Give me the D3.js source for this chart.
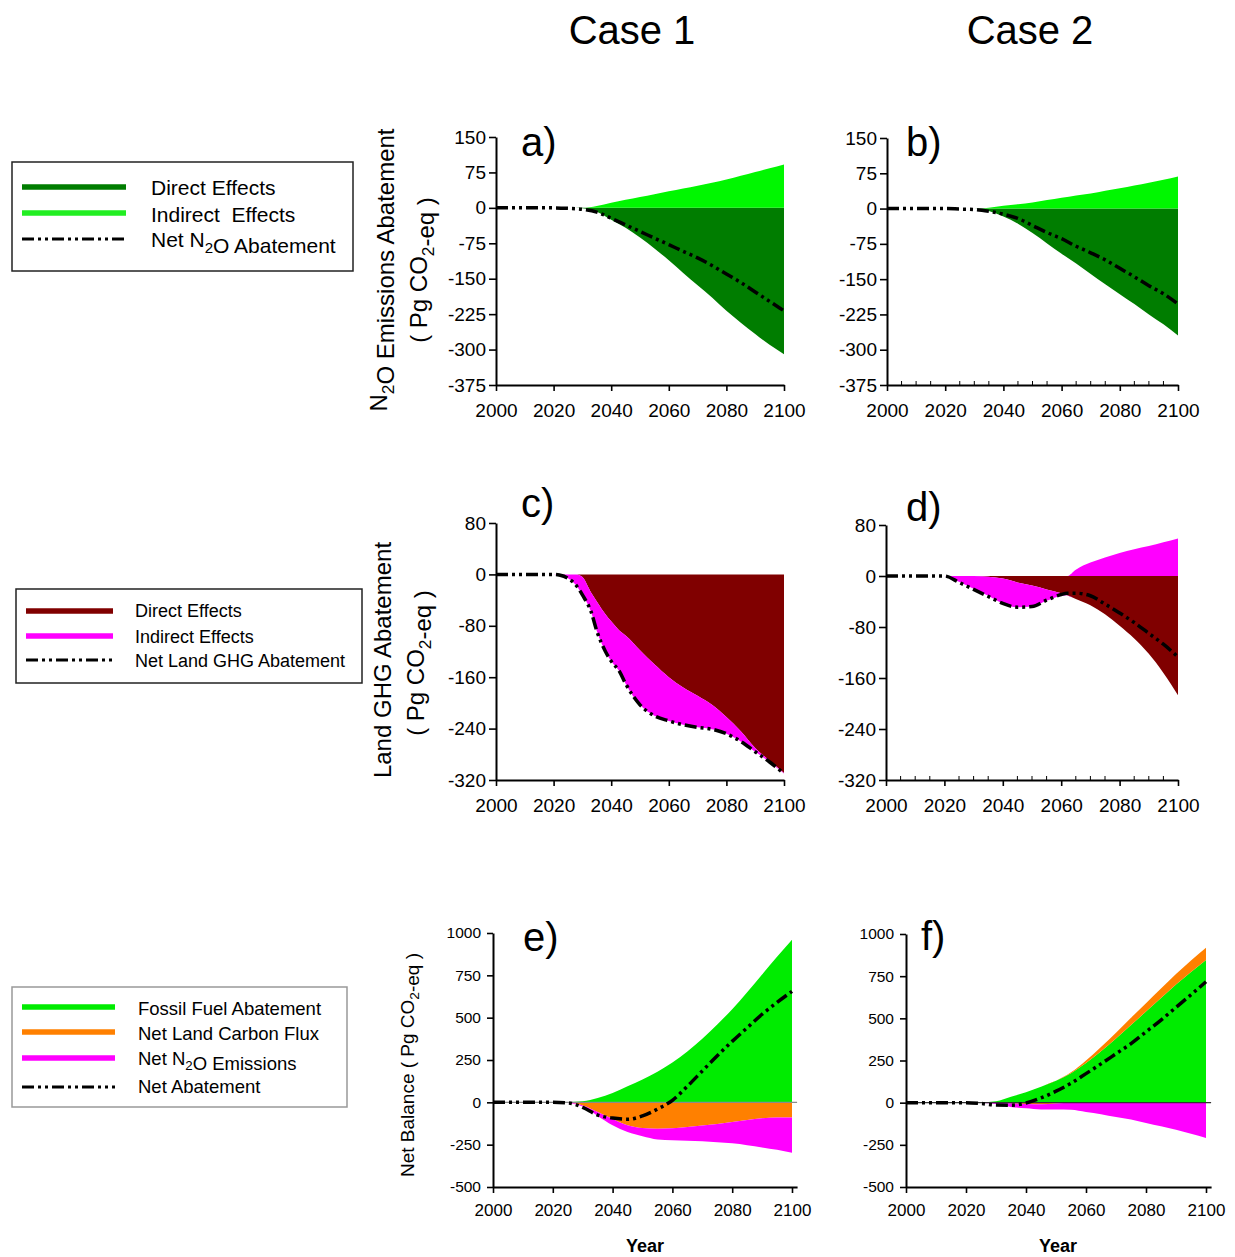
<!DOCTYPE html>
<html><head><meta charset="utf-8">
<script src="https://cdn.jsdelivr.net/npm/d3@7/dist/d3.min.js"></script>
<style>
body{margin:0;background:#fff}
svg{display:block}
text{font-family:"Liberation Sans",Arial,sans-serif;fill:#000;white-space:pre}
</style>
</head><body>
<svg id="chart" width="1235" height="1257"></svg>
<script>
// ---------------- DATA ----------------
const caseTitles = ["Case 1", "Case 2"];
const years = [2000, 2010, 2020, 2025, 2030, 2035, 2040, 2045, 2050, 2055, 2060, 2065, 2070, 2075, 2080, 2085, 2090, 2095, 2100];
const yearsC = [2000, 2010, 2020, 2022, 2025, 2028, 2030, 2033, 2035, 2038, 2040, 2043, 2045, 2050, 2055, 2060, 2065, 2070, 2075, 2080, 2085, 2090, 2095, 2100];
const yearsD = [2000, 2010, 2020, 2025, 2030, 2035, 2040, 2045, 2050, 2055, 2060, 2062, 2065, 2070, 2075, 2080, 2085, 2090, 2095, 2100];
const xTickLabels = [2000, 2020, 2040, 2060, 2080, 2100];
const yTicksN2O = [150, 75, 0, -75, -150, -225, -300, -375];
const yTicksLand = [80, 0, -80, -160, -240, -320];
const yTicksNet = [1000, 750, 500, 250, 0, -250, -500];

// a) Case 1 N2O
const aDirect   = [0, 0, 0, 0, -1, -8, -25, -42, -63, -86, -111, -138, -164, -190, -218, -243, -267, -290, -310];
const aIndirect = [0, 0, 0, 0, 0, 4, 11, 17, 23, 29, 35, 41, 47, 53, 60, 68, 76, 84, 92];
const aNet      = [0, 0, 0, -1, -3, -9, -22, -36, -50, -64, -78, -92, -106, -122, -140, -158, -178, -198, -218];
// b) Case 2 N2O
const bDirect   = [0, 0, 0, 0, 0, -5, -17, -32, -52, -74, -96, -117, -139, -161, -182, -203, -225, -246, -270];
const bIndirect = [0, 0, 0, 0, 0, 2, 6, 9, 13, 18, 23, 28, 32, 38, 43, 49, 55, 61, 68];
const bNet      = [0, 0, 0, -1, -2, -6, -12, -21, -36, -51, -64, -80, -94, -109, -127, -145, -164, -181, -203];
// c) Case 1 land GHG
const cDirect   = [0, 0, 0, 0, 0, 0, -4, -28, -42, -62, -73, -88, -95, -118, -140, -160, -176, -189, -203, -222, -244, -270, -290, -309];
const cIndirect = [0, 0, 0, -1, -6, -18, -28, -30, -46, -58, -62, -64, -75, -85, -80, -68, -58, -49, -38, -26, -16, -6, -2, -1];
const cNet      = [0, 0, 0, -1, -6, -18, -32, -58, -88, -120, -135, -152, -170, -203, -220, -228, -234, -238, -241, -248, -260, -276, -292, -310];
// d) Case 2 land GHG
const dDirect   = [0, 0, 0, 0, 0, -1, -4, -10, -15, -21, -27, -30, -36, -46, -60, -78, -98, -122, -152, -187];
const dIndirect = [0, 0, 0, -9, -20, -30, -39, -39, -33, -18, -4, 0, 10, 21, 29, 36, 42, 47, 53, 59];
const dNet      = [0, 0, 0, -10, -21, -32, -43, -49, -48, -38, -29, -27, -27, -31, -44, -58, -73, -90, -107, -127];
// e) Case 1 net balance
const eFossil = [0, 0, 0, 1, 6, 25, 55, 95, 135, 180, 235, 300, 375, 460, 550, 650, 755, 860, 960];
const eLand   = [0, 0, 0, -3, -18, -57, -98, -135, -152, -156, -153, -146, -137, -128, -116, -104, -94, -90, -89];
const eN2O    = [0, 0, 0, -1, -7, -23, -37, -40, -48, -63, -71, -81, -93, -107, -126, -149, -172, -190, -209];
const eNet    = [0, 0, 0, -3, -30, -75, -93, -100, -80, -40, 12, 95, 185, 275, 360, 440, 520, 590, 655];
// f) Case 2 net balance
const fFossil = [0, 0, 0, 1, 8, 35, 62, 95, 130, 175, 235, 305, 380, 460, 540, 620, 700, 775, 846];
const fLand   = [0, 0, 0, 0, 0, -3, -8, -10, -5, 5, 15, 25, 35, 43, 50, 57, 63, 68, 72];
const fN2O    = [0, 0, 0, -2, -8, -22, -25, -30, -35, -42, -55, -68, -85, -100, -120, -140, -160, -185, -210];
const fNet    = [0, 0, 0, -5, -14, -15, -2, 28, 68, 115, 172, 230, 290, 350, 420, 490, 565, 640, 717];

// ---------------- COLORS / STYLE ----------------
const C = {dkGreen:"#007d00", ltGreen:"#00f700", dkRed:"#800000", magenta:"#ff00ff", green:"#00ec00", orange:"#ff8000"};
const DASH = "12,4,3,4,3,4";
const fmt = d => String(d);

const svg = d3.select("#chart");

function rich(g, parts, size, attrs) {
  const t = g.append("text").attr("font-size", size);
  Object.entries(attrs || {}).forEach(([k, v]) => t.attr(k, v));
  parts.forEach(p => {
    if (typeof p === "string") t.append("tspan").text(p);
    else {
      t.append("tspan").attr("font-size", size * 0.72).attr("dy", size * 0.28).text(p.sub);
      t.append("tspan").attr("dy", -size * 0.28).text("");
    }
  });
  return t;
}

function panel(p) {
  const x = d3.scaleLinear().domain([2000, 2100]).range([p.x0, p.x1]);
  const y = d3.scaleLinear().domain(p.yDom).range(p.yRange);
  const g = svg.append("g");
  const n = p.years.length;
  const area = d3.area().x(d => x(d.t)).y0(d => y(d.a)).y1(d => y(d.b)).curve(d3.curveMonotoneX);
  let bp = new Array(n).fill(0), bn = new Array(n).fill(0);
  p.series.forEach(s => {
    const dp = p.years.map((t, j) => ({t, a: bp[j], b: bp[j] + Math.max(0, s.values[j])}));
    const dn = p.years.map((t, j) => ({t, a: bn[j], b: bn[j] + Math.min(0, s.values[j])}));
    bp = dp.map(d => d.b); bn = dn.map(d => d.b);
    if (s.values.some(v => v > 0)) g.append("path").attr("d", area(dp)).attr("fill", s.color);
    if (s.values.some(v => v < 0)) g.append("path").attr("d", area(dn)).attr("fill", s.color);
  });
  if (p.zeroLine) {
    g.append("line").attr("x1", p.x0).attr("x2", x(p.xEnd)).attr("y1", y(0)).attr("y2", y(0))
      .attr("stroke", p.zeroLine).attr("stroke-width", 1.2);
  }
  const line = d3.line().x((d, j) => x(p.years[j])).y(d => y(d)).curve(d3.curveMonotoneX);
  g.append("path").attr("d", line(p.net)).attr("fill", "none").attr("stroke", "#000")
    .attr("stroke-width", 3.5).attr("stroke-dasharray", DASH);

  // axes
  const xa = d3.scaleLinear().domain([2000, p.xEnd]).range([p.x0, x(p.xEnd)]);
  const ax = g.append("g").attr("transform", `translate(0,${p.yRange[0]})`)
    .call(d3.axisBottom(xa).tickValues(xTickLabels).tickFormat(fmt)
      .tickSize(6).tickPadding(p.xPad).tickSizeOuter(0));
  ax.selectAll("text").attr("font-size", p.xFont).attr("fill", "#000");
  const ay = g.append("g").attr("transform", `translate(${p.x0},0)`)
    .call(d3.axisLeft(y).tickValues(p.yTicks).tickFormat(fmt).tickSize(p.yTickSize).tickPadding(p.yPad).tickSizeOuter(0));
  ay.selectAll("text").attr("font-size", p.yFont).attr("fill", "#000");
  [ax, ay].forEach(a => {
    a.select(".domain").attr("stroke", "#000").attr("stroke-width", 2);
    a.selectAll(".tick line").attr("stroke", "#000").attr("stroke-width", 1.6);
    a.attr("font-family", null);
  });
  if (p.minor) {
    const mv = d3.range(2005, 2100, 5).filter(v => v % 20 !== 0);
    g.selectAll(null).data(mv).enter().append("line")
      .attr("x1", d => x(d)).attr("x2", d => x(d))
      .attr("y1", p.yRange[0]).attr("y2", p.yRange[0] - 4)
      .attr("stroke", "#000").attr("stroke-width", 1);
  }
  g.append("text").attr("x", p.lx).attr("y", p.ly).attr("font-size", 40).text(p.letter);
}

panel({x0:496, x1:784, xEnd:2100, yDom:[-375,150], yRange:[385,137], yTicks:yTicksN2O, years, net:aNet,
  series:[{values:aDirect, color:C.dkGreen}, {values:aIndirect, color:C.ltGreen}],
  xFont:19, yFont:19, xPad:12.5, yPad:3, yTickSize:7, letter:"a)", lx:521, ly:156});
panel({x0:887, x1:1178, xEnd:2100, yDom:[-375,150], yRange:[385,138], yTicks:yTicksN2O, years, net:bNet,
  series:[{values:bDirect, color:C.dkGreen}, {values:bIndirect, color:C.ltGreen}], minor:true,
  xFont:19, yFont:19, xPad:12.5, yPad:3, yTickSize:7, letter:"b)", lx:906, ly:156});
panel({x0:496, x1:784, xEnd:2100, yDom:[-320,80], yRange:[780,523], yTicks:yTicksLand, years:yearsC, net:cNet,
  series:[{values:cDirect, color:C.dkRed}, {values:cIndirect, color:C.magenta}],
  xFont:19, yFont:19, xPad:12.5, yPad:3, yTickSize:7, letter:"c)", lx:521, ly:517});
panel({x0:886, x1:1178, xEnd:2100, yDom:[-320,80], yRange:[780,525], yTicks:yTicksLand, years:yearsD, net:dNet,
  series:[{values:dDirect, color:C.dkRed}, {values:dIndirect, color:C.magenta}], minor:true,
  xFont:19, yFont:19, xPad:12.5, yPad:3, yTickSize:7, letter:"d)", lx:906, ly:521});
panel({x0:493, x1:792, xEnd:2101.7, yDom:[-500,1000], yRange:[1187,933], yTicks:yTicksNet, years, net:eNet,
  series:[{values:eFossil, color:C.green}, {values:eLand, color:C.orange}, {values:eN2O, color:C.magenta}],
  zeroLine:"#8a8a8a", xFont:17, yFont:15.5, xPad:11, yPad:6, yTickSize:6, letter:"e)", lx:523, ly:951});
panel({x0:906, x1:1206, xEnd:2101.7, yDom:[-500,1000], yRange:[1187,934], yTicks:yTicksNet, years, net:fNet,
  series:[{values:fFossil, color:C.green}, {values:fLand, color:C.orange}, {values:fN2O, color:C.magenta}],
  zeroLine:"#333", xFont:17, yFont:15.5, xPad:11, yPad:6, yTickSize:6, letter:"f)", lx:921, ly:950});

// titles
svg.append("text").attr("x", 632).attr("y", 44).attr("text-anchor", "middle").attr("font-size", 40).text(caseTitles[0]);
svg.append("text").attr("x", 1030).attr("y", 44).attr("text-anchor", "middle").attr("font-size", 40).text(caseTitles[1]);

// y axis titles
rich(svg, ["N", {sub:"2"}, "O Emissions Abatement"], 24, {"text-anchor":"middle", transform:"translate(387,270) rotate(-90)"});
rich(svg, ["( Pg CO", {sub:"2"}, "-eq )"], 24, {"text-anchor":"middle", transform:"translate(427,270) rotate(-90)"});
rich(svg, ["Land GHG Abatement"], 24, {"text-anchor":"middle", transform:"translate(391,660) rotate(-90)"});
rich(svg, ["( Pg CO", {sub:"2"}, "-eq )"], 24, {"text-anchor":"middle", transform:"translate(424,663) rotate(-90)"});
rich(svg, ["Net Balance ( Pg CO", {sub:"2"}, "-eq )"], 19, {"text-anchor":"middle", transform:"translate(414,1065) rotate(-90)"});

// Year labels
svg.append("text").attr("x", 645).attr("y", 1252).attr("text-anchor", "middle").attr("font-size", 18).attr("font-weight", "bold").text("Year");
svg.append("text").attr("x", 1058).attr("y", 1252).attr("text-anchor", "middle").attr("font-size", 18).attr("font-weight", "bold").text("Year");

// legends
function legend(box, items, lx0, lx1, tx, size) {
  svg.append("rect").attr("x", box.x).attr("y", box.y).attr("width", box.w).attr("height", box.h)
    .attr("fill", "#fff").attr("stroke", box.stroke).attr("stroke-width", 1.5);
  items.forEach(it => {
    const l = svg.append("line").attr("x1", lx0).attr("x2", lx1).attr("y1", it.ly).attr("y2", it.ly);
    if (it.dash) l.attr("stroke", "#000").attr("stroke-width", 3).attr("stroke-dasharray", DASH);
    else l.attr("stroke", it.color).attr("stroke-width", 5.5);
    rich(svg, it.label, size, {x: tx, y: it.ty});
  });
}
legend({x:12, y:162, w:341, h:109, stroke:"#222"}, [
  {color:C.dkGreen, ly:187, ty:195, label:["Direct Effects"]},
  {color:"#22ee22", ly:213, ty:221.5, label:["Indirect  Effects"]},
  {dash:true, ly:239, ty:247, label:["Net N", {sub:"2"}, "O Abatement"]}
], 22, 126, 151, 21);
legend({x:16, y:589, w:346, h:94, stroke:"#222"}, [
  {color:C.dkRed, ly:611, ty:617, label:["Direct Effects"]},
  {color:C.magenta, ly:636, ty:642.5, label:["Indirect Effects"]},
  {dash:true, ly:660, ty:667, label:["Net Land GHG Abatement"]}
], 26, 113, 135, 18);
legend({x:12, y:987, w:335, h:120, stroke:"#999"}, [
  {color:C.green, ly:1007, ty:1015, label:["Fossil Fuel Abatement"]},
  {color:C.orange, ly:1032, ty:1040, label:["Net Land Carbon Flux"]},
  {color:C.magenta, ly:1058, ty:1065, label:["Net N", {sub:"2"}, "O Emissions"]},
  {dash:true, ly:1087, ty:1093, label:["Net Abatement"]}
], 22, 115, 138, 18.5);
</script>
</body></html>
